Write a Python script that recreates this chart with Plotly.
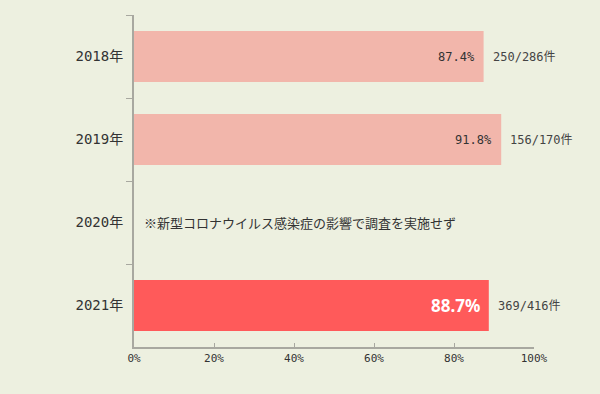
import plotly.graph_objects as go

years = ["2018年", "2019年", "2020年", "2021年"]
rates = [87.4, 91.8, None, 88.7]
rate_labels = ["87.4%", "91.8%", "", "88.7%"]
counts = ["250/286件", "156/170件", "", "369/416件"]
note = "※新型コロナウイルス感染症の影響で調査を実施せず"
x_ticks = [0, 20, 40, 60, 80, 100]
x_tick_labels = ["0%", "20%", "40%", "60%", "80%", "100%"]

bar_colors = ["#F2B6AB", "#F2B6AB", "#F2B6AB", "#FF5A5A"]

FONT = "DejaVu Sans Mono, Noto Sans CJK JP"
CJK = "Noto Sans CJK JP"

fig = go.Figure()
fig.add_trace(go.Bar(
    y=years, x=rates, orientation="h",
    marker=dict(color=bar_colors, line=dict(width=0)),
    hoverinfo="skip",
))

for i, (y, v, lab, c) in enumerate(zip(years, rates, rate_labels, counts)):
    if v is None:
        continue
    if i == 3:
        fig.add_annotation(x=v, y=y, text=f"<b>{lab}</b>", showarrow=False,
                           xanchor="right", xshift=-7,
                           font=dict(size=17, color="#FFFFFF", family="Noto Sans, DejaVu Sans"))
    else:
        fig.add_annotation(x=v, y=y, text=lab, showarrow=False,
                           xanchor="right", xshift=-7,
                           font=dict(size=12, color="#333333", family=FONT))
    fig.add_annotation(x=v, y=y, text=c, showarrow=False, xanchor="left",
                       xshift=7, font=dict(size=12, color="#444444", family=FONT))

fig.add_annotation(x=0, y=years[2], text=note, showarrow=False, xanchor="left",
                   xshift=8, font=dict(size=13, color="#333333", family=CJK))

fig.update_layout(
    width=600, height=394,
    margin=dict(l=134, r=66, t=15, b=47),
    paper_bgcolor="#EDF0E0", plot_bgcolor="#EDF0E0",
    bargap=0.385, showlegend=False,
    font=dict(family=FONT, color="#333333"),
)
fig.update_xaxes(range=[0, 100], tickvals=x_ticks, ticktext=x_tick_labels,
                 showgrid=False, zeroline=False, showline=True,
                 linecolor="#A8A8A0", linewidth=1.5,
                 ticks="inside", ticklen=4, tickcolor="#A8A8A0",
                 tickfont=dict(size=11, color="#333333"), fixedrange=True)
fig.update_yaxes(autorange="reversed", showgrid=False, showline=True,
                 linecolor="#A8A8A0", linewidth=2,
                 ticks="outside", tickson="boundaries", ticklen=6,
                 tickcolor="#A8A8A0", tickfont=dict(size=14, color="#333333"),
                 ticklabelstandoff=6, fixedrange=True)

fig.write_html("out.html")
